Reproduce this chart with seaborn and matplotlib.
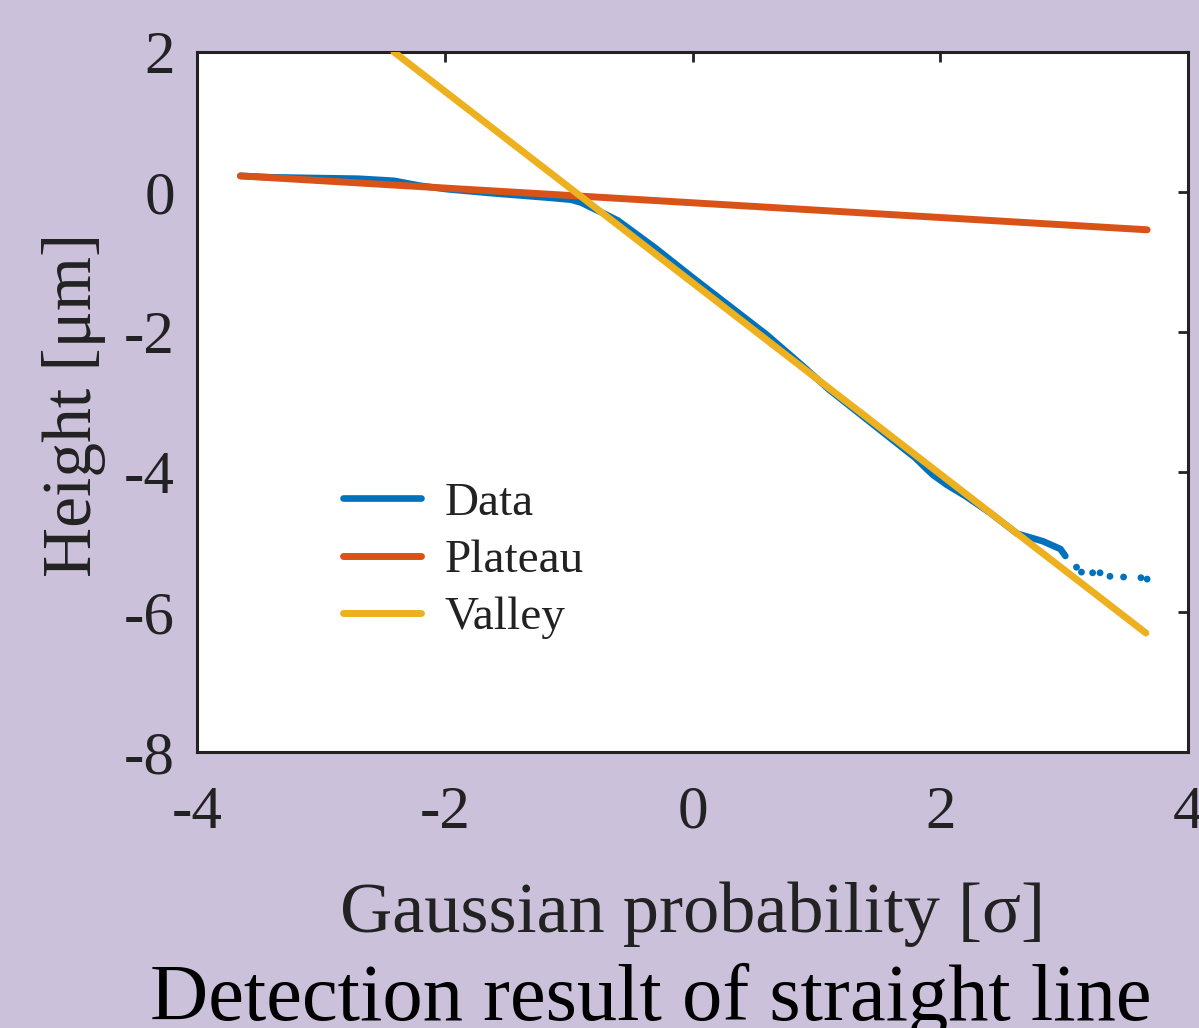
import numpy as np
import pandas as pd
import matplotlib
matplotlib.use("Agg")
import matplotlib.pyplot as plt
import seaborn as sns

# measured profile (sorted heights vs gaussian quantile)
data_x = [-3.65, -3.4, -3.06, -2.7, -2.41, -2.2, -1.98, -1.6, -1.17, -0.98, -0.9,
          -0.82, -0.7, -0.6, -0.3, 0.0, 0.3, 0.6, 0.9, 1.1, 1.3, 1.5, 1.7, 1.8,
          1.88, 1.94, 2.05, 2.2, 2.4, 2.62, 2.83, 2.97, 3.01]
data_y = [0.23, 0.21, 0.2, 0.19, 0.16, 0.09, 0.04, -0.02, -0.08, -0.11, -0.15,
          -0.22, -0.32, -0.41, -0.8, -1.22, -1.63, -2.04, -2.5, -2.82, -3.1, -3.38,
          -3.66, -3.8, -3.94, -4.04, -4.18, -4.34, -4.58, -4.88, -4.99, -5.1, -5.2]
# sparse tail points
tail_x = [3.10, 3.14, 3.23, 3.29, 3.37, 3.48, 3.62, 3.67]
tail_y = [-5.36, -5.43, -5.44, -5.44, -5.49, -5.5, -5.51, -5.53]

# fitted lines (end points)
plateau_x = [-3.65, 3.67]
plateau_y = [0.23, -0.54]
valley_x = [-2.41, 3.66]
valley_y = [2.0, -6.3]

colors = {"Data": "#0072BD", "Plateau": "#D95319", "Valley": "#EDB120"}
bg = "#CBC1DB"
ink = "#222222"

sns.set_theme(style="white")
plt.rcParams["font.family"] = ["Liberation Serif", "DejaVu Serif"]

fig = plt.figure(figsize=(11.99, 10.28), dpi=100, facecolor=bg)
ax = fig.add_axes([197 / 1199, 1 - 752 / 1028, (1188 - 197) / 1199, 700 / 1028])
ax.set_facecolor("white")

df_data = pd.DataFrame({"x": data_x, "y": data_y})
df_tail = pd.DataFrame({"x": tail_x, "y": tail_y})
df_plat = pd.DataFrame({"x": plateau_x, "y": plateau_y})
df_val = pd.DataFrame({"x": valley_x, "y": valley_y})

sns.lineplot(data=df_data, x="x", y="y", ax=ax, color=colors["Data"], lw=4.8,
             label="Data", sort=False, zorder=2)
sns.scatterplot(data=df_tail, x="x", y="y", ax=ax, color=colors["Data"], s=24,
                edgecolor="none", zorder=2)
sns.lineplot(data=df_plat, x="x", y="y", ax=ax, color=colors["Plateau"], lw=5,
             label="Plateau", zorder=3)
sns.lineplot(data=df_val, x="x", y="y", ax=ax, color=colors["Valley"], lw=5,
             label="Valley", zorder=4)

ax.set_xlim(-4, 4)
ax.set_ylim(-8, 2)
ax.set_xticks([-4, -2, 0, 2, 4])
ax.set_yticks([-8, -6, -4, -2, 0, 2])
ax.set_xticklabels(["-4", "-2", "0", "2", "4"])
ax.set_yticklabels(["-8", "-6", "-4", "-2", "0", "2"])

for s in ax.spines.values():
    s.set_visible(True)
    s.set_color(ink)
    s.set_linewidth(2.2)
ax.tick_params(direction="in", length=7, width=2, colors=ink, labelcolor=ink,
               labelsize=44, top=True, right=True)
ax.tick_params(axis="x", pad=24)
ax.tick_params(axis="y", pad=16)

ax.set_xlabel("Gaussian probability [σ]", fontsize=52, color=ink)
ax.set_ylabel("Height [μm]", fontsize=50, color=ink)
ax.xaxis.set_label_coords(0.5, -0.185)
ax.yaxis.set_label_coords(-0.092, 0.496)

leg = ax.legend(loc="upper left", bbox_to_anchor=(0.147, 0.386), frameon=False,
                fontsize=34, handlelength=1.65, handletextpad=0.5,
                labelspacing=0.3, borderpad=0, borderaxespad=0)
for t in leg.get_texts():
    t.set_color(ink)

fig.text(0.543, 8 / 1028, "Detection result of straight line", fontsize=58,
         ha="center", va="baseline", color="black")

fig.savefig("out.png", dpi=100, facecolor=bg)
